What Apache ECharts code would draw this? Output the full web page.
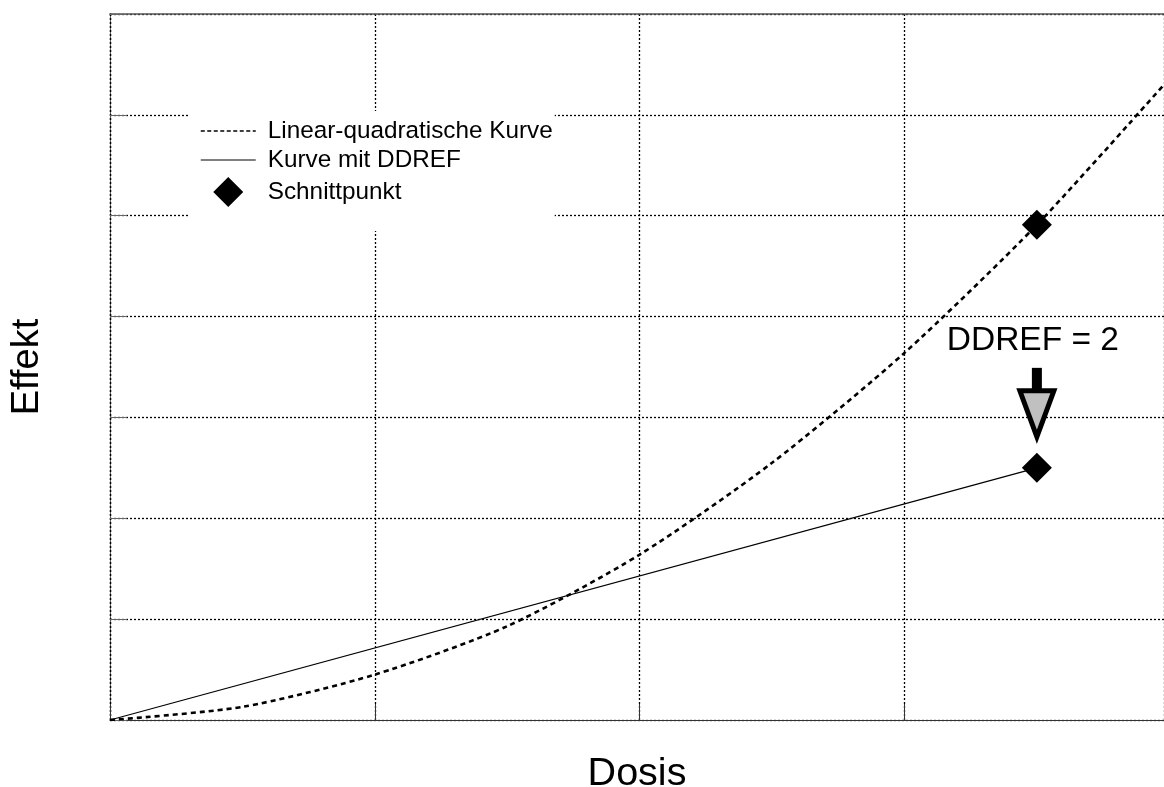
<!DOCTYPE html>
<html>
<head>
<meta charset="utf-8">
<script src="https://cdn.jsdelivr.net/npm/echarts@6/dist/echarts.min.js"></script>
<style>
html,body{margin:0;padding:0;background:#fff;}
#chart{width:1164px;height:787px;}
</style>
</head>
<body>
<div id="chart"></div>
<script>
// ---- data ----
const doseLQ = [0, 0.5, 1, 1.5, 2, 2.5, 3, 3.5, 3.98];
const effectLQ = [0, 0.13, 0.45, 0.93, 1.64, 2.55, 3.64, 4.91, 6.30];
const doseDDREF = [0, 3.5];
const effectDDREF = [0, 2.50];
const intersectDose = [3.5, 3.5];
const intersectEffect = [4.91, 2.50];
const seriesNames = ['Linear-quadratische Kurve', 'Kurve mit DDREF', 'Schnittpunkt'];
const annotationText = 'DDREF = 2';
const xTitle = 'Dosis';
const yTitle = 'Effekt';

const FONT = '"Liberation Sans", Arial, Helvetica, sans-serif';
const zip = (a, b) => a.map((v, i) => [v, b[i]]);

const chart = echarts.init(document.getElementById('chart'), null, {renderer: 'canvas'});

const gridDot = {color: '#000', width: 1.3, type: [2, 2]};
const noFill = {color: 'rgba(0,0,0,0)', borderWidth: 0};
// diamond icon inside a 55x30 box (bounding points keep the aspect)
const diamondIcon = 'path://M0,0M55,30M27.5,0L42.5,15L27.5,30L12.5,15Z';

const option = {
  backgroundColor: '#fff',
  animation: false,
  grid: {left: 110, top: 14, right: 0, bottom: 67, containLabel: false, outerBoundsMode: 'none'},
  xAxis: [{
    type: 'value', min: 0, max: 3.98, interval: 1,
    name: xTitle, nameLocation: 'middle', nameGap: 34,
    nameTextStyle: {fontSize: 39.5, fontFamily: FONT, color: '#000'},
    axisLine: {show: true, lineStyle: {color: '#333', width: 1.2}},
    axisTick: {show: true, inside: true, length: 16, lineStyle: {color: '#333', width: 1}},
    axisLabel: {show: false},
    splitLine: {show: true, lineStyle: gridDot}
  }, {
    type: 'value', position: 'top', min: 0, max: 3.98,
    axisLine: {show: true, lineStyle: {color: '#555', width: 1.6}},
    axisTick: {show: false}, axisLabel: {show: false}, splitLine: {show: false}
  }],
  yAxis: {
    type: 'value', min: 0, max: 7, interval: 1,
    name: yTitle, nameLocation: 'middle', nameGap: 63, nameRotate: 90,
    nameTextStyle: {fontSize: 38, fontFamily: FONT, color: '#000'},
    axisLine: {show: true, lineStyle: gridDot},
    axisTick: {show: true, inside: true, length: 17, lineStyle: {color: '#666', width: 1}},
    axisLabel: {show: false},
    splitLine: {show: true, lineStyle: gridDot}
  },
  legend: {
    left: 188, top: 111, orient: 'vertical',
    backgroundColor: '#fff',
    padding: [8, 2, 24, 12],
    itemWidth: 55, itemHeight: 30, itemGap: 5,
    textStyle: {fontSize: 24.3, fontFamily: FONT, color: '#000', padding: [0, 0, 0, 7]},
    data: [
      {name: seriesNames[0], itemStyle: noFill, lineStyle: {width: 1.5, type: [4, 2.5], color: '#000'}},
      {name: seriesNames[1], itemStyle: noFill, lineStyle: {width: 1, type: 'solid', color: '#000'}},
      {name: seriesNames[2], icon: diamondIcon, itemStyle: {color: '#000', opacity: 1}}
    ]
  },
  series: [
    {
      name: seriesNames[0], type: 'line', smooth: 0.25, symbol: 'none',
      data: zip(doseLQ, effectLQ),
      itemStyle: {color: '#000'},
      lineStyle: {color: '#000', width: 2.6, type: [5, 4]}, z: 3
    },
    {
      name: seriesNames[1], type: 'line', symbol: 'none',
      data: zip(doseDDREF, effectDDREF),
      itemStyle: {color: '#000'},
      lineStyle: {color: '#000', width: 1.2, type: 'solid'}, z: 3
    },
    {
      name: seriesNames[2], type: 'scatter', symbol: 'diamond', symbolSize: 30,
      data: zip(intersectDose, intersectEffect),
      itemStyle: {color: '#000', opacity: 1}, z: 5
    },
    {
      name: 'annotation', type: 'custom', z: 6,
      data: [[intersectDose[1], intersectEffect[1]]],
      renderItem: function (params, api) {
        const p = api.coord([api.value(0), api.value(1)]);
        return {
          type: 'group', x: p[0], y: p[1],
          children: [
            {type: 'rect', shape: {x: -5, y: -100, width: 10, height: 26}, style: {fill: '#000'}},
            {type: 'polygon', shape: {points: [[-17, -77], [17, -77], [0, -31]]},
             style: {fill: '#c0c0c0', stroke: '#000', lineWidth: 5, lineJoin: 'miter'}},
            {type: 'text', x: -4, y: -127,
             style: {text: annotationText, fontSize: 33.5, fontFamily: FONT, fill: '#000', align: 'center', verticalAlign: 'middle'}}
          ]
        };
      }
    }
  ]
};
chart.setOption(option);
</script>
</body>
</html>
